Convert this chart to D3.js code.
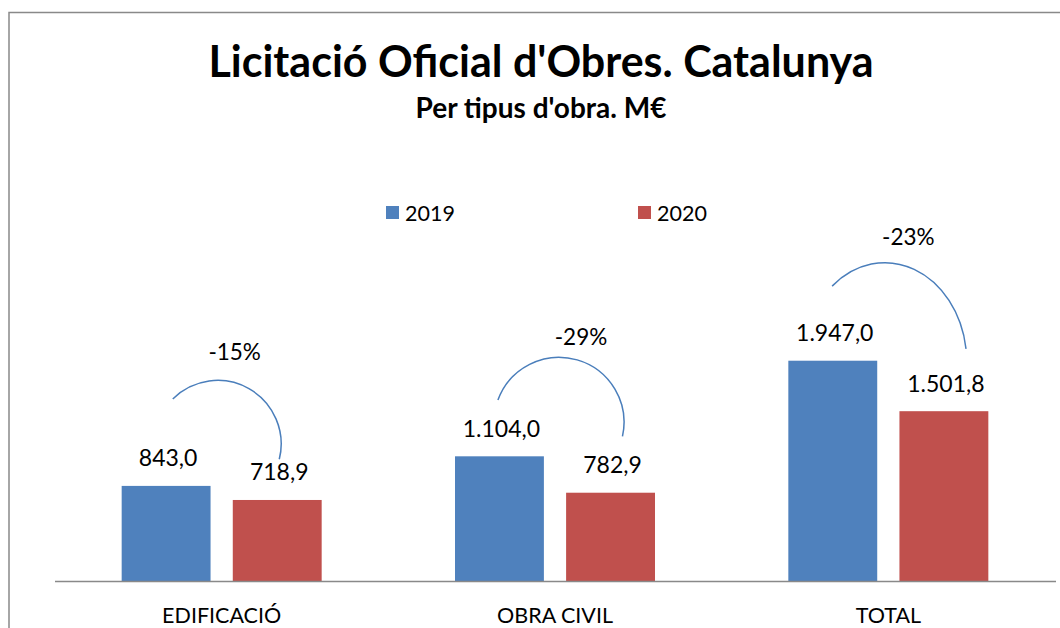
<!DOCTYPE html>
<html>
<head>
<meta charset="utf-8">
<script src="https://cdn.jsdelivr.net/npm/d3@7"></script>
<style>
  body { margin: 0; background: #fff; }
  svg { display: block; font-family: Lato, "Open Sans", sans-serif; }
</style>
</head>
<body>
<div id="chart"></div>
<script>
// data
const categories = ["EDIFICACIÓ", "OBRA CIVIL", "TOTAL"];
const years = ["2019", "2020"];
const values2019 = [843.0, 1104.0, 1947.0];
const values2020 = [718.9, 782.9, 1501.8];
const changeLabels = ["-15%", "-29%", "-23%"];

const colors = { "2019": "#4F81BD", "2020": "#C0504D" };

// hand drawn arcs over each pair (offsets from the group centre / 2019 bar top)
const arcShapes = [
  { dx: -4, dy: -42, rx: 63.5, ry: 63.5, a0: -135, a1: 14, lx: 13, ly: -126 },
  { dx: 4, dy: -34, rx: 65, ry: 65, a0: -160, a1: 12.5, lx: 26, ly: -111 },
  { dx: -3.5, dy: 2, rx: 82, ry: 100, a0: -130, a1: -8, lx: 20, ly: -116 }
];

const width = 1060, height = 628;
const svg = d3.select("#chart").append("svg")
  .attr("width", width)
  .attr("height", height);

// frame of the chart area
svg.append("rect")
  .attr("x", 9).attr("y", 12.5)
  .attr("width", 1200).attr("height", 800)
  .attr("fill", "none")
  .attr("stroke", "#898989")
  .attr("stroke-width", 1.5);

svg.append("text")
  .attr("x", 541).attr("y", 77)
  .attr("text-anchor", "middle")
  .attr("font-weight", "bold")
  .attr("font-size", 43)
  .text("Licitació Oficial d'Obres. Catalunya");

svg.append("text")
  .attr("x", 541).attr("y", 118)
  .attr("text-anchor", "middle")
  .attr("font-weight", "bold")
  .attr("font-size", 28)
  .text("Per tipus d'obra. M€");

// legend
const legend = svg.append("g");
[{ y: "2019", x: 386 }, { y: "2020", x: 638 }].forEach(d => {
  legend.append("rect")
    .attr("x", d.x).attr("y", 206)
    .attr("width", 13).attr("height", 13)
    .attr("fill", colors[d.y]);
  legend.append("text")
    .attr("x", d.x + 19).attr("y", 221)
    .attr("font-size", 21.5)
    .text(d.y);
});

const x0 = d3.scaleBand().domain(categories).range([55, 1055]);
const x1 = d3.scaleBand().domain(years).range([0, x0.bandwidth()])
  .paddingInner(0.2).paddingOuter(0.6);
const y = d3.scaleLinear().domain([0, 2500]).range([581.5, 298]);

const rows = categories.map((c, i) => ({
  cat: c,
  vals: [{ year: "2019", v: values2019[i] }, { year: "2020", v: values2020[i] }]
}));

const groups = svg.append("g").selectAll("g")
  .data(rows)
  .join("g")
  .attr("transform", d => `translate(${x0(d.cat)},0)`);

groups.selectAll("rect")
  .data(d => d.vals)
  .join("rect")
  .attr("x", d => x1(d.year))
  .attr("y", d => y(d.v))
  .attr("width", x1.bandwidth())
  .attr("height", d => y(0) - y(d.v))
  .attr("fill", d => colors[d.year]);

const fmt = v => v.toLocaleString("de-DE", { minimumFractionDigits: 1, maximumFractionDigits: 1 });

groups.selectAll("text.val")
  .data(d => d.vals)
  .join("text")
  .attr("class", "val")
  .attr("x", d => x1(d.year) + x1.bandwidth() / 2 + 2)
  .attr("y", d => y(d.v) - 19.5)
  .attr("text-anchor", "middle")
  .attr("font-size", 23)
  .text(d => fmt(d.v));

// baseline
svg.append("line")
  .attr("x1", 55).attr("x2", 1056)
  .attr("y1", y(0)).attr("y2", y(0))
  .attr("stroke", "#898989")
  .attr("stroke-width", 1.5);

// category axis labels
const xAxis = svg.append("g")
  .attr("transform", `translate(0,${y(0)})`)
  .call(d3.axisBottom(x0).tickSize(0).tickPadding(0));
xAxis.select(".domain").remove();
xAxis.selectAll("text")
  .attr("dy", 0)
  .attr("y", 41.5)
  .attr("font-family", "Lato, sans-serif")
  .attr("font-size", 21.5)
  .attr("fill", "#000");

// change arcs and labels
const rad = Math.PI / 180;
arcShapes.forEach((s, i) => {
  const cx = x0(categories[i]) + x0.bandwidth() / 2 + s.dx;
  const cy = y(values2019[i]) + s.dy;
  const p0 = [cx + s.rx * Math.cos(s.a0 * rad), cy + s.ry * Math.sin(s.a0 * rad)];
  const p1 = [cx + s.rx * Math.cos(s.a1 * rad), cy + s.ry * Math.sin(s.a1 * rad)];
  const large = (s.a1 - s.a0) > 180 ? 1 : 0;
  svg.append("path")
    .attr("d", `M${p0[0]},${p0[1]} A${s.rx},${s.ry} 0 ${large} 1 ${p1[0]},${p1[1]}`)
    .attr("fill", "none")
    .attr("stroke", "#4A7EBB")
    .attr("stroke-width", 1.5);
  svg.append("text")
    .attr("x", cx - s.dx + s.lx)
    .attr("y", y(values2019[i]) + s.ly)
    .attr("text-anchor", "middle")
    .attr("font-size", 22.5)
    .text(changeLabels[i]);
});
</script>
</body>
</html>
